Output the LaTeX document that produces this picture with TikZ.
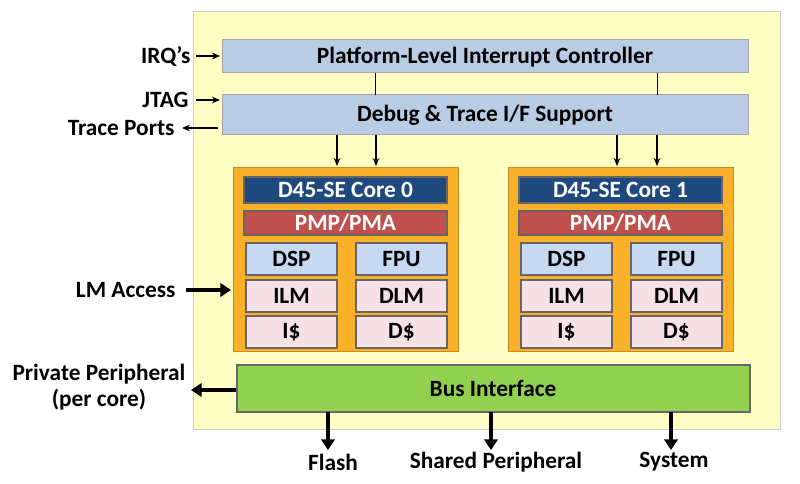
\documentclass[tikz,border=0pt]{standalone}
\usepackage{fontspec}
\setmainfont{Carlito}
\usetikzlibrary{arrows.meta}
\definecolor{bgyel}{RGB}{255,255,196}
\definecolor{barblue}{RGB}{184,204,228}
\definecolor{coreor}{RGB}{250,176,40}
\definecolor{darkbl}{RGB}{31,73,125}
\definecolor{pmpred}{RGB}{192,80,77}
\definecolor{unitbl}{RGB}{198,217,241}
\definecolor{unitpk}{RGB}{246,226,230}
\definecolor{busgr}{RGB}{146,208,80}
\tikzset{every picture/.style={line width=0.75pt},
  bar/.style={draw=gray!70, fill=barblue},
  unit/.style={draw=gray!80!black, line width=1pt},
  lbl/.style={font=\bfseries\fontsize{17.5}{19}\selectfont, inner sep=0.75pt},
  thin/.style={-{Stealth[length=6pt,width=5pt]}, line width=1pt},
  thick/.style={-{Triangle[length=8pt,width=10pt]}, line width=3pt}}
\begin{document}
\begin{tikzpicture}[x=0.75pt,y=0.75pt,yscale=-1,xscale=1]
\useasboundingbox (0,0) rectangle (800,484);
%background
\draw [draw=gray!40, fill=bgyel] (193,12) rectangle (780,430);
%bars
\draw [bar] (222,40) rectangle (748,73);
\node [lbl] (plic) at (485,57) {Platform-Level Interrupt Controller};
\draw [bar] (222,95) rectangle (748,135);
\node [lbl] (dbg) at (485,115) {Debug \& Trace I/F Support};
\draw (375,73) -- (375,95);
\draw (657,73) -- (657,95);
%cores
\foreach \cx/\n in {233/0,508/1}{
  \draw [draw=coreor!80!black, fill=coreor] (\cx,168) rectangle ++(225,184);
  \draw [unit, fill=darkbl] (\cx+11,177) rectangle ++(203,26);
  \node [lbl, text=white] at (\cx+112.5,190) {D45-SE Core \n};
  \draw [unit, fill=pmpred] (\cx+11,211) rectangle ++(203,24);
  \node [lbl, text=white] at (\cx+112.5,223) {PMP/PMA};
  \draw [unit, fill=unitbl] (\cx+13,243) rectangle ++(91,32);
  \node [lbl] at (\cx+58.5,259) {DSP};
  \draw [unit, fill=unitbl] (\cx+123,243) rectangle ++(91,32);
  \node [lbl] at (\cx+168.5,259) {FPU};
  \draw [unit, fill=unitpk] (\cx+13,280) rectangle ++(91,32);
  \node [lbl] at (\cx+58.5,296) {ILM};
  \draw [unit, fill=unitpk] (\cx+123,280) rectangle ++(91,32);
  \node [lbl] at (\cx+168.5,296) {DLM};
  \draw [unit, fill=unitpk] (\cx+13,316) rectangle ++(91,32);
  \node [lbl] at (\cx+58.5,332) {I\$};
  \draw [unit, fill=unitpk] (\cx+123,316) rectangle ++(91,32);
  \node [lbl] at (\cx+168.5,332) {D\$};
}
\foreach \x in {337,376,617,657}
  \draw [thin] (\x,135) -- (\x,166);
%bus
\draw [unit, fill=busgr] (237,365) rectangle (750,412);
\node [lbl] (bus) at (493,388) {Bus Interface};
%side signals
\node [lbl, anchor=east] (irq) at (192,56) {IRQ's};
\draw [thin] (196,56) -- (220,56);
\node [lbl, anchor=east] (jtag) at (190,100) {JTAG};
\draw [thin] (196,100) -- (220,100);
\node [lbl, anchor=east] (trace) at (176,128) {Trace Ports};
\draw [thin] (218,128) -- (182,128);
\node [lbl, anchor=east] (lm) at (177,290) {LM Access};
\draw [thick] (186,290) -- (231,290);
\node [lbl, align=center] (priv) at (99,387) {Private Peripheral\\(per core)};
\draw [thick] (236,390) -- (191,390);
%outputs
\draw [thick] (328,412) -- (328,450);
\node [lbl] (flash) at (333,462) {Flash};
\draw [thick] (491,412) -- (491,450);
\node [lbl] (shared) at (496,462) {Shared Peripheral};
\draw [thick] (671,412) -- (671,450);
\node [lbl] (sys) at (674,462) {System};
\end{tikzpicture}
\end{document}
